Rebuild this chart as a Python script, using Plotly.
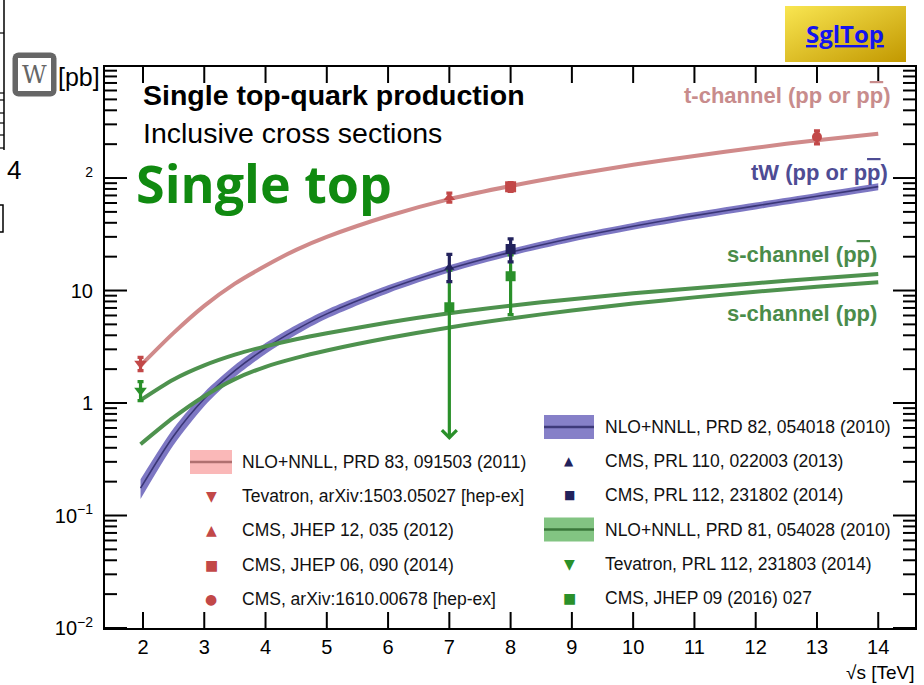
import base64
import math
import plotly.graph_objects as go

# ---------------- data ----------------
curve_x = [1.96, 2.5, 3, 3.5, 4, 4.5, 5, 6, 7, 8, 9, 10, 11, 12, 13, 14]
tch_theory = [2.15, 4.2, 7.3, 11.5, 16.6, 23, 30, 46, 65, 85, 107, 131, 157, 186, 217, 248]
tw_theory = [0.175, 0.51, 1.09, 1.94, 3.07, 4.49, 6.2, 10.3, 15.6, 21.9, 29.2, 37.3, 46.3, 56.6, 68.9, 83.8]
tw_rel_unc = [0.2, 0.17, 0.14, 0.12, 0.11, 0.10, 0.09, 0.08, 0.075, 0.07, 0.07, 0.07, 0.07, 0.07, 0.07, 0.07]
sch_ppbar_theory = [1.06, 1.62, 2.16, 2.69, 3.19, 3.69, 4.17, 5.19, 6.27, 7.33, 8.38, 9.44, 10.5, 11.6, 12.8, 14.0]
sch_pp_theory = [0.43, 0.745, 1.15, 1.63, 2.1, 2.52, 2.93, 3.78, 4.7, 5.65, 6.64, 7.66, 8.69, 9.75, 10.8, 11.86]

# t-channel measurements
tev_t_x, tev_t_y, tev_t_up, tev_t_dn = [1.96], [2.25], [0.29], [0.31]
cms_t7_x, cms_t7_y, cms_t7_up, cms_t7_dn = [7], [67.2], [6.1], [6.1]
cms_t8_x, cms_t8_y, cms_t8_up, cms_t8_dn = [8], [83.6], [7.7], [7.7]
cms_t13_x, cms_t13_y, cms_t13_up, cms_t13_dn = [13], [232], [31], [31]
# tW measurements
cms_tw7_x, cms_tw7_y, cms_tw7_up, cms_tw7_dn = [7], [16.0], [5.0], [4.0]
cms_tw8_x, cms_tw8_y, cms_tw8_up, cms_tw8_dn = [8], [23.4], [5.4], [5.4]
# s-channel measurements
tev_s_x, tev_s_y, tev_s_up, tev_s_dn = [1.96], [1.29], [0.26], [0.24]
cms_s_x, cms_s_y, cms_s_up, cms_s_dn = [7, 8], [7.1, 13.4], [8.1, 7.3], [8.1, 7.3]
limit_floor = 0.47  # end of the downward arrow when the lower error reaches zero

x_ticks = [2, 3, 4, 5, 6, 7, 8, 9, 10, 11, 12, 13, 14]
y_ticks = [0.01, 0.1, 1, 10, 100]
y_ticktext = ["10<sup>\u22122</sup>", "10<sup>\u22121</sup>", "1", "10",
              "<span style='color:white'>10</span><sup>2</sup>"]
y_minor = [k * 10 ** d for d in range(-2, 3) for k in range(2, 10)]

legend_left_labels = ["NLO+NNLL, PRD 83, 091503 (2011)",
                      "Tevatron, arXiv:1503.05027 [hep-ex]",
                      "CMS, JHEP 12, 035 (2012)",
                      "CMS, JHEP 06, 090 (2014)",
                      "CMS, arXiv:1610.00678 [hep-ex]"]
legend_right_labels = ["NLO+NNLL, PRD 82, 054018 (2010)",
                       "CMS, PRL 110, 022003 (2013)",
                       "CMS, PRL 112, 231802 (2014)",
                       "NLO+NNLL, PRD 81, 054028 (2010)",
                       "Tevatron, PRL 112, 231803 (2014)",
                       "CMS, JHEP 09 (2016) 027"]

# ---------------- styles ----------------
FONT = "Liberation Sans, Arial, Helvetica, sans-serif"
T_LINE = "rgb(208,138,138)"
T_MARK = "#c24848"
TW_BAND = "rgba(118,112,192,0.95)"
TW_LINE = "rgb(58,54,118)"
TW_MARK = "#22225c"
S_LINE = "rgb(78,146,78)"
S_MARK = "#2a902a"

W, H = 924, 685
L, R, T, B = 105, 915, 67, 628
X_RANGE = [1.38, 14.6]
Y_RANGE = [-2, 2.987]


def px(x):
    return (x - L) / (R - L)


def py(y):
    return (B - y) / (B - T)


fig = go.Figure()

# tW band + central line
tw_lo = [v * (1 - u) for v, u in zip(tw_theory, tw_rel_unc)]
tw_hi = [v * (1 + u) for v, u in zip(tw_theory, tw_rel_unc)]
SPL = dict(shape="spline", smoothing=0.8)
fig.add_trace(go.Scatter(x=curve_x, y=tw_lo, mode="lines", line=dict(width=0, **SPL),
                         showlegend=False, hoverinfo="skip"))
fig.add_trace(go.Scatter(x=curve_x, y=tw_hi, mode="lines", line=dict(width=0, **SPL),
                         fill="tonexty", fillcolor=TW_BAND, showlegend=False, hoverinfo="skip"))
fig.add_trace(go.Scatter(x=curve_x, y=tw_theory, mode="lines",
                         line=dict(color=TW_LINE, width=1.6, **SPL), showlegend=False))
# s-channel curves
for ys in (sch_ppbar_theory, sch_pp_theory):
    fig.add_trace(go.Scatter(x=curve_x, y=ys, mode="lines",
                             line=dict(color=S_LINE, width=4, **SPL), showlegend=False))
# t-channel curve
fig.add_trace(go.Scatter(x=curve_x, y=tch_theory, mode="lines",
                         line=dict(color=T_LINE, width=4, **SPL), showlegend=False))

arrow_annotations = []


def add_points(xs, ys, up, dn, symbol, color, size=11):
    dn_plot = []
    for x, y, e_up, e_dn in zip(xs, ys, up, dn):
        if y - e_dn <= 0:
            dn_plot.append(0)
            arrow_annotations.append(dict(
                x=x, y=math.log10(limit_floor), ax=x, ay=math.log10(y),
                xref="x", yref="y", axref="x", ayref="y", text="", showarrow=True,
                arrowhead=4, arrowsize=0.9, arrowwidth=3.2, arrowcolor=color, standoff=0))
        else:
            dn_plot.append(e_dn)
    fig.add_trace(go.Scatter(
        x=xs, y=ys, mode="markers", showlegend=False,
        marker=dict(symbol=symbol, size=size, color=color, line=dict(width=0)),
        error_y=dict(type="data", symmetric=False, array=up, arrayminus=dn_plot,
                     color=color, thickness=3.2, width=3)))


add_points(cms_s_x, cms_s_y, cms_s_up, cms_s_dn, "square", S_MARK, 10)
add_points(tev_s_x, tev_s_y, tev_s_up, tev_s_dn, "triangle-down", S_MARK, 11)
add_points(cms_tw7_x, cms_tw7_y, cms_tw7_up, cms_tw7_dn, "triangle-up", TW_MARK, 9)
add_points(cms_tw8_x, cms_tw8_y, cms_tw8_up, cms_tw8_dn, "square", TW_MARK, 10)
add_points(tev_t_x, tev_t_y, tev_t_up, tev_t_dn, "triangle-down", T_MARK, 11)
add_points(cms_t7_x, cms_t7_y, cms_t7_up, cms_t7_dn, "triangle-up", T_MARK, 10)
add_points(cms_t8_x, cms_t8_y, cms_t8_up, cms_t8_dn, "square", T_MARK, 11)
add_points(cms_t13_x, cms_t13_y, cms_t13_up, cms_t13_dn, "circle", T_MARK, 10)

# ---------------- annotations ----------------
ann = list(arrow_annotations)


def text(x, y, s, size, color="black", anchor="left", family=FONT):
    ann.append(dict(xref="paper", yref="paper", x=px(x), y=py(y), text=s, showarrow=False,
                    xanchor=anchor, yanchor="middle",
                    font=dict(size=size, color=color, family=family)))


OV = "<span style='text-decoration:overline'>p</span>"
text(141, 95, "<b>Single top-quark production</b>", 28.5)
text(141, 133, "Inclusive cross sections", 28.5)
text(134, 182, "<b>Single top</b>", 52, "rgb(16,138,16)", family="Open Sans, Noto Sans, sans-serif")
text(893, 96, "<b>t-channel (pp or p" + OV + ")</b>", 22, "rgb(200,140,140)", anchor="right")
text(890, 172, "<b>tW (pp or p" + OV + ")</b>", 22, "rgb(78,76,148)", anchor="right")
text(879, 255, "<b>s-channel (p" + OV + ")</b>", 22, "rgb(74,140,74)", anchor="right")
text(879, 313, "<b>s-channel (pp)</b>", 22, "rgb(74,140,74)", anchor="right")
text(917, 672, "\u221As [TeV]", 19, anchor="right")
text(845, 33, "<b><u>SglTop</u></b>", 24, "#1414ee", anchor="center",
     family="Open Sans, Noto Sans, sans-serif")
text(56, 77, "[pb]", 25)
text(34, 75, "W", 24, "#666666", anchor="center", family="DejaVu Serif, serif")
text(14, 170, "4", 26, anchor="center")

shapes = []

# ---------------- ROOT-style frame ticks (inward, on all four sides) ----------------
TICK_LINE = dict(color="black", width=2)


def yfrac(v):
    return (math.log10(v) - Y_RANGE[0]) / (Y_RANGE[1] - Y_RANGE[0])


for v in x_ticks:
    h = 16 / (B - T)
    shapes.append(dict(type="line", xref="x", yref="paper", x0=v, x1=v, y0=0, y1=h, line=TICK_LINE))
    shapes.append(dict(type="line", xref="x", yref="paper", x0=v, x1=v, y0=1, y1=1 - h, line=TICK_LINE))
for vals, length in ((y_ticks, 22), (y_minor, 12)):
    wlen = length / (R - L)
    for v in vals:
        f = yfrac(v)
        if 0 <= f <= 1:
            shapes.append(dict(type="line", xref="paper", yref="paper", x0=0, x1=wlen, y0=f, y1=f,
                               line=TICK_LINE))
            shapes.append(dict(type="line", xref="paper", yref="paper", x0=1, x1=1 - wlen, y0=f, y1=f,
                               line=TICK_LINE))

# fragments of the neighbouring slide picture on the far left
shapes.append(dict(type="line", xref="paper", yref="paper", x0=px(4), x1=px(4), y0=py(0), y1=py(150),
                   line=dict(color="black", width=1.5)))
for yy in (33, 93, 100, 113, 123, 135, 148):
    shapes.append(dict(type="line", xref="paper", yref="paper", x0=px(0), x1=px(4), y0=py(yy), y1=py(yy),
                       line=dict(color="black", width=1.2)))
shapes.append(dict(type="path", xref="paper", yref="paper",
                   path=f"M{px(0)},{py(205)} L{px(3)},{py(205)} L{px(3)},{py(232)} L{px(0)},{py(232)}",
                   line=dict(color="black", width=1.5)))

# ---------------- manual legend ----------------
ROW = 34.2


def band_key(xc, w, y, fill, line):
    shapes.append(dict(type="rect", xref="paper", yref="paper", x0=px(xc - w / 2), x1=px(xc + w / 2),
                       y0=py(y - 12), y1=py(y + 12), fillcolor=fill, line=dict(width=0)))
    shapes.append(dict(type="line", xref="paper", yref="paper", x0=px(xc - w / 2), x1=px(xc + w / 2),
                       y0=py(y), y1=py(y), line=dict(color=line, width=2.5)))


def glyph_key(xc, y, g, color, size=14):
    ann.append(dict(xref="paper", yref="paper", x=px(xc), y=py(y), text=g, showarrow=False,
                    xanchor="center", yanchor="middle",
                    font=dict(size=size, color=color, family="DejaVu Sans, sans-serif")))


left_keys = [("band", "rgb(250,184,184)", "rgb(176,112,112)"), ("glyph", "\u25BC", T_MARK),
             ("glyph", "\u25B2", T_MARK), ("glyph", "\u25A0", T_MARK), ("glyph", "\u25CF", T_MARK)]
right_keys = [("band", "rgb(134,128,200)", "rgb(62,58,122)"), ("glyph", "\u25B2", TW_MARK),
              ("glyph", "\u25A0", TW_MARK), ("band", "rgb(130,196,130)", "rgb(58,120,58)"),
              ("glyph", "\u25BC", S_MARK), ("glyph", "\u25A0", S_MARK)]

for i, (lab, key) in enumerate(zip(legend_left_labels, left_keys)):
    y = 462 + i * ROW
    if key[0] == "band":
        band_key(211, 42, y, key[1], key[2])
    else:
        glyph_key(211, y, key[1], key[2])
    text(240, y, lab, 17.5, "#111111")

for i, (lab, key) in enumerate(zip(legend_right_labels, right_keys)):
    y = 427 + i * ROW
    if key[0] == "band":
        band_key(569, 50, y, key[1], key[2])
    else:
        glyph_key(569, y, key[1], key[2], 12 if key[2] == TW_MARK else 14)
    text(603, y, lab, 17.5, "#111111")

# ---------------- images (badge + logo) ----------------
gold_svg = ("<svg xmlns='http://www.w3.org/2000/svg' width='121' height='56' viewBox='0 0 121 56'>"
            "<defs><linearGradient id='g' x1='0' y1='0' x2='1' y2='1'>"
            "<stop offset='0' stop-color='#f9e651'/><stop offset='1' stop-color='#c29800'/>"
            "</linearGradient></defs><rect width='121' height='56' fill='url(#g)'/></svg>")
logo_svg = ("<svg xmlns='http://www.w3.org/2000/svg' width='45' height='45' viewBox='0 0 45 45'>"
            "<rect x='0.5' y='0.5' width='44' height='44' rx='6' fill='#666666'/>"
            "<rect x='6' y='6' width='33' height='33' fill='#ffffff'/></svg>")


def uri(svg):
    return "data:image/svg+xml;base64," + base64.b64encode(svg.encode()).decode()


images = [
    dict(source=uri(gold_svg), xref="paper", yref="paper", x=px(785), y=py(6),
         sizex=(906 - 785) / (R - L), sizey=(62 - 6) / (B - T), xanchor="left", yanchor="top",
         sizing="stretch", layer="above"),
    dict(source=uri(logo_svg), xref="paper", yref="paper", x=px(12), y=py(52),
         sizex=45 / (R - L), sizey=45 / (B - T), xanchor="left", yanchor="top",
         sizing="stretch", layer="above"),
]

AXS = dict(showgrid=False, zeroline=False, showline=True, linewidth=2, linecolor="black",
           mirror=True, ticks="")

fig.update_layout(
    template="none",
    width=W, height=H,
    margin=dict(l=L, r=W - R, t=T, b=H - B, pad=0),
    paper_bgcolor="white", plot_bgcolor="white",
    font=dict(family=FONT, color="black", size=20),
    showlegend=False,
    annotations=ann, shapes=shapes, images=images,
    xaxis=dict(range=X_RANGE, tickmode="array", tickvals=x_ticks, tickfont=dict(size=20), **AXS),
    yaxis=dict(type="log", range=Y_RANGE, tickmode="array", tickvals=y_ticks, ticktext=y_ticktext,
               tickfont=dict(size=20), ticklabelstandoff=6, **AXS),
)

fig.write_html("out.html")
